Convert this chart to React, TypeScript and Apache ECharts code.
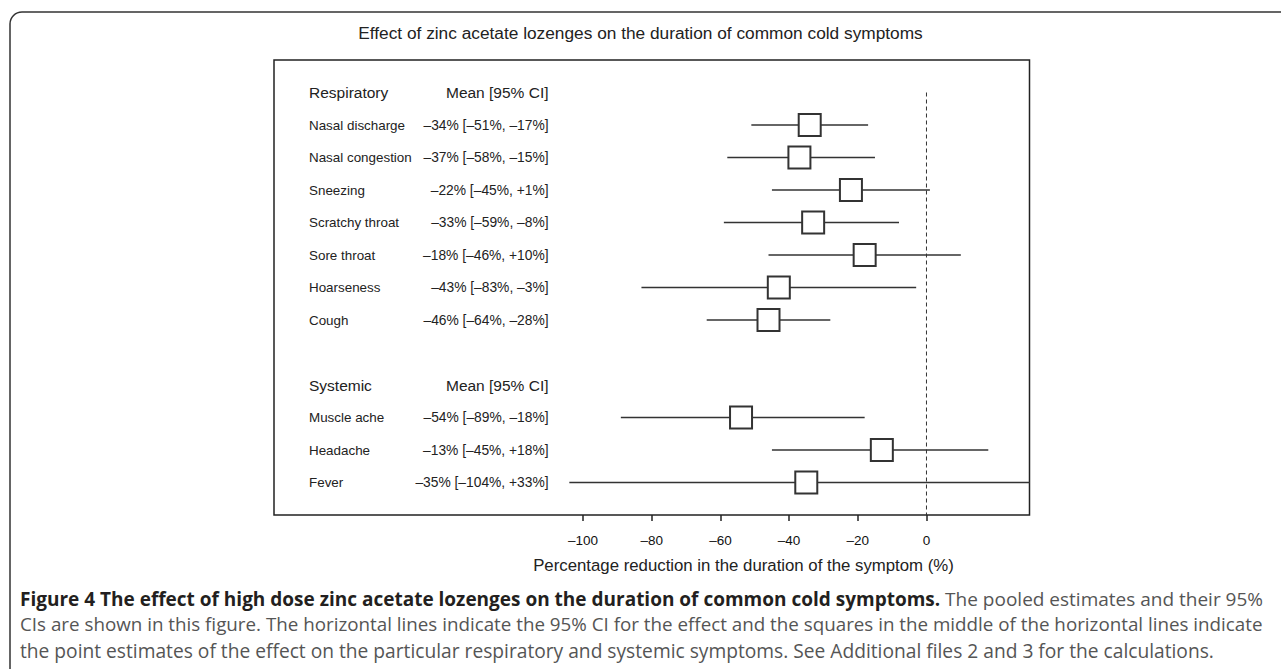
import React, { useEffect, useRef } from "react";
import * as echarts from "echarts";

// ---- data ----
const respiratoryNames = ["Nasal discharge", "Nasal congestion", "Sneezing", "Scratchy throat", "Sore throat", "Hoarseness", "Cough"];
const respiratoryMean = [-34, -37, -22, -33, -18, -43, -46];
const respiratoryLow = [-51, -58, -45, -59, -46, -83, -64];
const respiratoryHigh = [-17, -15, 1, -8, 10, -3, -28];

const systemicNames = ["Muscle ache", "Headache", "Fever"];
const systemicMean = [-54, -13, -35];
const systemicLow = [-89, -45, -104];
const systemicHigh = [-18, 18, 33];

const groupHeaders = ["Respiratory", "Systemic"];
const statHeader = "Mean [95% CI]";
const xTicks = [-100, -80, -60, -40, -20, 0];

const titleText = "Effect of zinc acetate lozenges on the duration of common cold symptoms";
const xAxisTitle = "Percentage reduction in the duration of the symptom (%)";
const captionBold = "Figure 4 The effect of high dose zinc acetate lozenges on the duration of common cold symptoms.";
const captionLine1 = " The pooled estimates and their 95%";
const captionLine2 = "CIs are shown in this figure. The horizontal lines indicate the 95% CI for the effect and the squares in the middle of the horizontal lines indicate";
const captionLine3 = "the point estimates of the effect on the particular respiratory and systemic symptoms. See Additional files 2 and 3 for the calculations.";

const fmt = (v: number) => (v < 0 ? "\u2013" + Math.abs(v) : v > 0 ? "+" + v : "0") + "%";
const statText = (m: number, l: number, h: number) => `${fmt(m)} [${fmt(l)}, ${fmt(h)}]`;

type Row = { pos: number; name: string; stat: string; header: boolean; mean?: number; lo?: number; hi?: number };
const rows: Row[] = [];
rows.push({ pos: 0, name: groupHeaders[0], stat: statHeader, header: true });
respiratoryNames.forEach((n, i) =>
  rows.push({ pos: i + 1, name: n, stat: statText(respiratoryMean[i], respiratoryLow[i], respiratoryHigh[i]), header: false, mean: respiratoryMean[i], lo: respiratoryLow[i], hi: respiratoryHigh[i] })
);
const sysStart = respiratoryNames.length + 2;
rows.push({ pos: sysStart, name: groupHeaders[1], stat: statHeader, header: true });
systemicNames.forEach((n, i) =>
  rows.push({ pos: sysStart + 1 + i, name: n, stat: statText(systemicMean[i], systemicLow[i], systemicHigh[i]), header: false, mean: systemicMean[i], lo: systemicLow[i], hi: systemicHigh[i] })
);
const dataRows = rows.filter((r) => !r.header);
const lastPos = rows[rows.length - 1].pos;

const FONT = "Liberation Sans, Arial, Helvetica, sans-serif";
const CAP_FONT = "Open Sans, sans-serif";
const INK = "#222";

export default function App() {
  const ref = useRef<HTMLDivElement>(null);
  useEffect(() => {
    if (!ref.current) return;
    const chart = echarts.init(ref.current, null, { renderer: "svg" });
    const option: any = {
      animation: false,
      backgroundColor: "#fff",
      title: {
        text: titleText,
        left: "center",
        top: 19,
        textStyle: { fontSize: 17.3, fontWeight: "normal", color: INK, fontFamily: FONT },
      },
      grid: { left: 274, top: 60, width: 755.5, height: 455, show: true, borderColor: INK, borderWidth: 1.5, backgroundColor: "transparent" },
      xAxis: {
        type: "value",
        position: "bottom",
        min: -190,
        max: 30,
        splitLine: { show: false },
        axisLine: { show: false, onZero: false },
        axisTick: { show: true, customValues: xTicks, length: 6, lineStyle: { color: INK, width: 1.5 } },
        axisLabel: {
          customValues: xTicks,
          formatter: (v: number) => (v < 0 ? "\u2013" + Math.abs(v) : String(v)),
          fontSize: 13.5,
          color: "#111",
          fontFamily: FONT,
          margin: 18,
        },
      },
      yAxis: { type: "value", min: -1, max: lastPos + 1, inverse: true, show: false },
      graphic: [
        {
          type: "rect",
          z: -10,
          shape: { x: 10, y: 12, width: 1320, height: 720, r: 12 },
          style: { fill: "none", stroke: "#333", lineWidth: 1.5 },
        },
        {
          type: "text",
          x: 743.5,
          y: 565,
          style: { text: xAxisTitle, align: "center", verticalAlign: "middle", fontSize: 16.8, fontFamily: FONT, fill: INK },
        },
        {
          type: "text",
          x: 20,
          y: 599,
          style: {
            text: `{b|${captionBold}}{r|${captionLine1}}`,
            verticalAlign: "middle",
            rich: {
              b: { fontSize: 19, fontWeight: "bold", fontFamily: CAP_FONT, fill: "#231f20" },
              r: { fontSize: 19, fontFamily: CAP_FONT, fill: "#555" },
            },
          },
        },
        {
          type: "text",
          x: 20,
          y: 624,
          style: { text: captionLine2, verticalAlign: "middle", fontSize: 18.8, fontFamily: CAP_FONT, fill: "#555" },
        },
        {
          type: "text",
          x: 20,
          y: 650,
          style: { text: captionLine3, verticalAlign: "middle", fontSize: 19.2, fontFamily: CAP_FONT, fill: "#555" },
        },
      ],
      series: [
        {
          type: "line",
          data: [
            [0, 0],
            [0, lastPos + 1],
          ],
          showSymbol: false,
          symbol: "none",
          lineStyle: { color: "#333", width: 1, type: [4, 3] },
          z: 1,
          silent: true,
        },
        {
          type: "custom",
          clip: true,
          z: 3,
          encode: { x: [0, 2, 3], y: 1 },
          data: dataRows.map((r) => [r.mean, r.pos, r.lo, r.hi]),
          renderItem: (params: any, api: any) => {
            const m = api.value(0);
            const p = api.value(1);
            const lo = api.coord([api.value(2), p]);
            const hi = api.coord([api.value(3), p]);
            const c = api.coord([m, p]);
            const s = 22;
            return {
              type: "group",
              children: [
                { type: "line", shape: { x1: lo[0], y1: lo[1], x2: hi[0], y2: hi[1] }, style: { stroke: "#333", lineWidth: 1.6 } },
                { type: "rect", shape: { x: c[0] - s / 2, y: c[1] - s / 2, width: s, height: s }, style: { fill: "#fff", stroke: "#333", lineWidth: 2 } },
              ],
            };
          },
        },
        {
          type: "custom",
          clip: false,
          z: 4,
          encode: { x: 0, y: 1 },
          data: rows.map((r) => [0, r.pos]),
          renderItem: (params: any, api: any) => {
            const r = rows[params.dataIndex];
            const y = api.coord([0, api.value(1)])[1];
            const gx = params.coordSys.x;
            return {
              type: "group",
              children: [
                { type: "text", x: gx + 35, y, style: { text: r.name, align: "left", verticalAlign: "middle", fontSize: r.header ? 15.5 : 13.4, fontFamily: FONT, fill: INK } },
                { type: "text", x: gx + 274.5, y, style: { text: r.stat, align: "right", verticalAlign: "middle", fontSize: r.header ? 15.5 : 13.8, fontFamily: FONT, fill: INK } },
              ],
            };
          },
        },
      ],
    };
    chart.setOption(option);
    return () => chart.dispose();
  }, []);
  return <div ref={ref} style={{ position: "absolute", left: 0, top: 0, width: 1281, height: 669 }} />;
}
